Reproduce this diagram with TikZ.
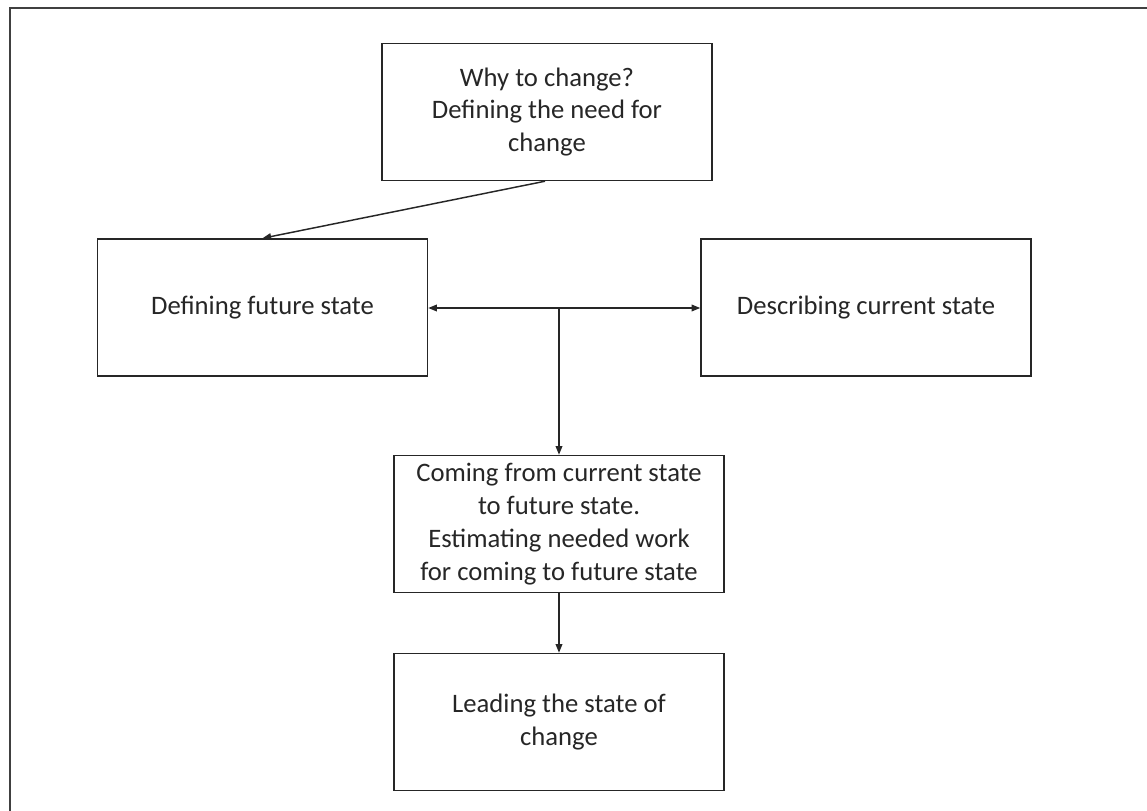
\documentclass[tikz,border=0pt]{standalone}
\usepackage{fontspec}
\setmainfont{Carlito}
\usetikzlibrary{arrows.meta}
\begin{document}
\begin{tikzpicture}[x=0.75pt,y=-0.75pt,
  stagebox/.style={draw=black!85, line width=1.1pt, minimum width=247.5pt,
    minimum height=102.75pt, align=center, inner sep=2pt,
    font=\fontsize{20}{24.6}\selectfont, text=black!85},
  tip/.style={Triangle[length=6.5pt,width=5pt]},
  flow/.style={draw=black!85, line width=1.1pt, -{Triangle[length=6.5pt,width=5pt]}},
  frame/.style={draw=black!75, line width=1.6pt}]
\useasboundingbox (0,0) rectangle (1147,811);
% page frame (top and left edges)
\draw[frame] (1147,8) -- (10,8) -- (10,811);
% stages
\node[stagebox] (why) at (547,112) {Why to change?\\Defining the need for\\change};
\node[stagebox] (future) at (262.5,307.5) {Defining future state};
\node[stagebox] (current) at (866,307.5) {Describing current state};
\node[stagebox] (coming) at (559,524) {Coming from current state\\to future state.\\Estimating needed work\\for coming to future state};
\node[stagebox] (leading) at (559,722) {Leading the state of\\change};
% connectors
\coordinate (split) at (559,308);
\coordinate (whyfoot) at (545,0);
\draw[flow] (why.south -| whyfoot) -- (future.north);
\draw[flow,{Triangle[length=6.5pt,width=5pt]}-{Triangle[length=6.5pt,width=5pt]}]
  (future.east |- split) -- (current.west |- split);
\draw[flow] (split) -- (coming.north);
\draw[flow] (coming.south) -- (leading.north);
\end{tikzpicture}
\end{document}
